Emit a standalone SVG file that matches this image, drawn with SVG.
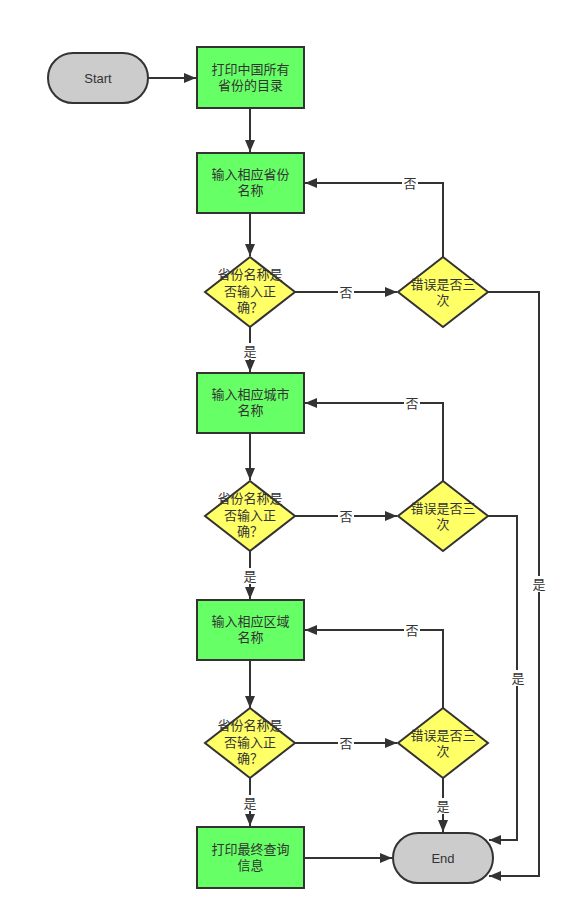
<svg xmlns="http://www.w3.org/2000/svg" width="571" height="920" viewBox="0 0 571 920">
<style>
text{font-family:"Liberation Sans","Noto Sans CJK SC",sans-serif;font-size:13px;fill:#333;text-anchor:middle}
.proc{fill:#66ff66;stroke:#333;stroke-width:2}
.dec{fill:#ffff66;stroke:#333;stroke-width:2}
.term{fill:#cccccc;stroke:#333;stroke-width:2}
.c{fill:none;stroke:#333;stroke-width:2;marker-end:url(#a)}
.lb{fill:#fff}
</style>
<defs>
<marker id="a" viewBox="0 0 12 10" refX="12" refY="5" markerWidth="6" markerHeight="5" markerUnits="strokeWidth" orient="auto">
<path d="M0,0 L12,5 L0,10 z" fill="#333"/>
</marker>
</defs>
<rect width="571" height="920" fill="#fff"/>
<g id="connectors">
<path class="c" d="M148,78 H196"/>
<path class="c" d="M250,108 V152"/>
<path class="c" d="M250,213 V256"/>
<path class="c" d="M295,292 H397"/>
<path class="c" d="M443,257 V183 H305"/>
<path class="c" d="M488,292 H539 V876 H489"/>
<path class="c" d="M250,327 V372"/>
<path class="c" d="M250,433 V480"/>
<path class="c" d="M295,516 H397"/>
<path class="c" d="M443,481 V403 H305"/>
<path class="c" d="M488,516 H517 V840 H489"/>
<path class="c" d="M250,551 V599"/>
<path class="c" d="M250,660 V708"/>
<path class="c" d="M295,743 H397"/>
<path class="c" d="M443,708 V630 H305"/>
<path class="c" d="M443,778 V832"/>
<path class="c" d="M250,778 V826"/>
<path class="c" d="M304,858 H392"/>
<g id="labels">
<rect class="lb" x="338" y="284" width="16" height="16"/><text x="346" y="297">否</text>
<rect class="lb" x="402" y="175" width="16" height="16"/><text x="410" y="188">否</text>
<rect class="lb" x="531" y="576" width="16" height="16"/><text x="539" y="589">是</text>
<rect class="lb" x="242" y="343" width="16" height="16"/><text x="250" y="356">是</text>
<rect class="lb" x="338" y="508" width="16" height="16"/><text x="346" y="521">否</text>
<rect class="lb" x="404" y="395" width="16" height="16"/><text x="412" y="408">否</text>
<rect class="lb" x="510" y="670" width="16" height="16"/><text x="518" y="683">是</text>
<rect class="lb" x="242" y="568" width="16" height="16"/><text x="250" y="581">是</text>
<rect class="lb" x="338" y="735" width="16" height="16"/><text x="346" y="748">否</text>
<rect class="lb" x="404" y="622" width="16" height="16"/><text x="412" y="635">否</text>
<rect class="lb" x="435" y="798" width="16" height="16"/><text x="443" y="811">是</text>
<rect class="lb" x="242" y="795" width="16" height="16"/><text x="250" y="808">是</text>
</g>
</g>
<g id="start"><rect class="term" x="48" y="53" width="100" height="50" rx="25" ry="25"/><text x="98" y="82.5">Start</text></g>
<g id="p1"><rect class="proc" x="197" y="47" width="107" height="61"/><text x="250.5" y="74">打印中国所有</text><text x="250.5" y="90">省份的目录</text></g>
<g id="p2"><rect class="proc" x="197" y="153" width="107" height="60"/><text x="250.5" y="179">输入相应省份</text><text x="250.5" y="195">名称</text></g>
<g id="d1"><path class="dec" d="M250,257 L295,292 L250,327 L205,292 Z"/><text x="250" y="279">省份名称是</text><text x="250" y="296">否输入正</text><text x="250" y="312">确？</text></g>
<g id="e1"><path class="dec" d="M443,257 L488,292 L443,327 L398,292 Z"/><text x="443" y="289">错误是否三</text><text x="443" y="305">次</text></g>
<g id="p3"><rect class="proc" x="197" y="373" width="107" height="60"/><text x="250.5" y="399">输入相应城市</text><text x="250.5" y="415">名称</text></g>
<g id="d2"><path class="dec" d="M250,481 L295,516 L250,551 L205,516 Z"/><text x="250" y="503">省份名称是</text><text x="250" y="520">否输入正</text><text x="250" y="536">确？</text></g>
<g id="e2"><path class="dec" d="M443,481 L488,516 L443,551 L398,516 Z"/><text x="443" y="513">错误是否三</text><text x="443" y="529">次</text></g>
<g id="p4"><rect class="proc" x="197" y="600" width="107" height="60"/><text x="250.5" y="626">输入相应区域</text><text x="250.5" y="642">名称</text></g>
<g id="d3"><path class="dec" d="M250,708 L295,743 L250,778 L205,743 Z"/><text x="250" y="730">省份名称是</text><text x="250" y="747">否输入正</text><text x="250" y="763">确？</text></g>
<g id="e3"><path class="dec" d="M443,708 L488,743 L443,778 L398,743 Z"/><text x="443" y="740">错误是否三</text><text x="443" y="756">次</text></g>
<g id="p5"><rect class="proc" x="197" y="827" width="107" height="61"/><text x="250.5" y="854">打印最终查询</text><text x="250.5" y="870">信息</text></g>
<g id="end"><rect class="term" x="393" y="833" width="100" height="50" rx="25" ry="25"/><text x="443" y="862.5">End</text></g>
</svg>
